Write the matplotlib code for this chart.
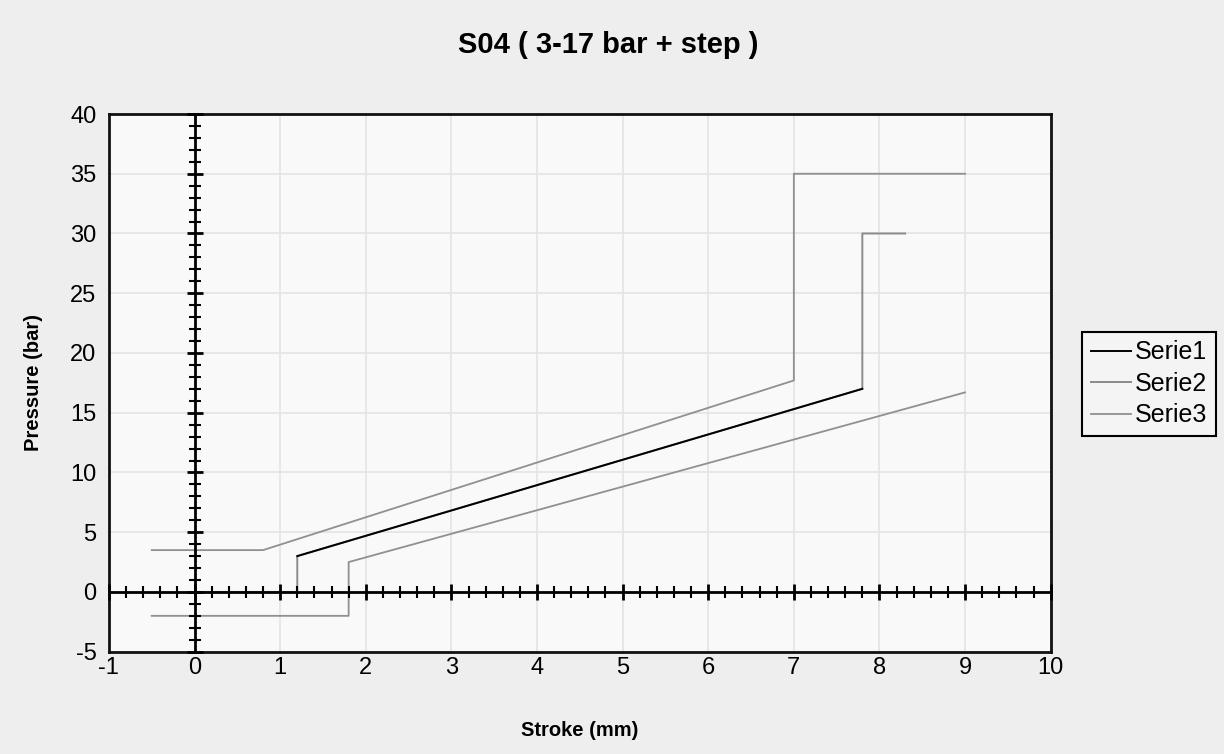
import numpy as np
import matplotlib.pyplot as plt
from matplotlib.ticker import MultipleLocator

plt.rcParams['font.family'] = ['Liberation Sans', 'DejaVu Sans']
plt.rcParams['axes.unicode_minus'] = False

# data
serie1_x = [1.2, 7.8]
serie1_y = [3.0, 17.0]

serie2_x = [0.0, 1.2, 1.2, 7.8, 7.8, 8.3]
serie2_y = [0.0, 0.0, 3.0, 17.0, 30.0, 30.0]

# two branches (upper / lower), split by a gap
serie3_x = [-0.5, 0.8, 7.0, 7.0, 9.0, np.nan, -0.5, 1.8, 1.8, 9.0]
serie3_y = [3.5, 3.5, 17.7, 35.0, 35.0, np.nan, -2.0, -2.0, 2.5, 16.7]

labels = ['Serie1', 'Serie2', 'Serie3']

fig = plt.figure(figsize=(12.24, 7.54), dpi=100, facecolor='#eeeeee')
pos = [0.089, 0.1357, 0.7694, 0.7131]
ax = fig.add_axes(pos)
ax.set_facecolor('#f9f9f9')

l2, = ax.plot(serie2_x, serie2_y, color='#8a8a8a', lw=1.4, zorder=3)
l1, = ax.plot(serie1_x, serie1_y, color='black', lw=1.4, zorder=4)
l3, = ax.plot(serie3_x, serie3_y, color='#909090', lw=1.3, zorder=3)

ax.set_xlim(-1, 10)
ax.set_ylim(-5, 40)
ax.xaxis.set_major_locator(MultipleLocator(1))
ax.yaxis.set_major_locator(MultipleLocator(5))
ax.grid(True, color='#e4e4e4', lw=1.2, zorder=0)
ax.set_axisbelow(True)
ax.tick_params(which='both', length=0, labelsize=17, colors='black')
ax.tick_params(axis='x', pad=4)
ax.tick_params(axis='y', pad=9)
for s in ax.spines.values():
    s.set_linewidth(2)
    s.set_color('#111111')

ax.set_xlabel('Stroke (mm)', fontsize=14.5, fontweight='bold')
ax.set_ylabel('Pressure (bar)', fontsize=14.5, fontweight='bold')
ax.xaxis.set_label_coords(0.5, -0.128)
ax.yaxis.set_label_coords(-0.07, 0.5)

# cross axes through the origin with their own ticks
ax2 = fig.add_axes(pos, frameon=True, sharex=ax, sharey=ax)
ax2.patch.set_visible(False)
ax2.spines['top'].set_visible(False)
ax2.spines['right'].set_visible(False)
ax2.spines['bottom'].set_position(('data', 0))
ax2.spines['left'].set_position(('data', 0))
ax2.spines['bottom'].set_linewidth(2)
ax2.spines['left'].set_linewidth(2)
ax2.xaxis.set_minor_locator(MultipleLocator(0.2))
ax2.yaxis.set_minor_locator(MultipleLocator(1))
ax2.tick_params(which='major', direction='inout', length=11, width=2,
                labelbottom=False, labelleft=False)
ax2.tick_params(which='minor', direction='inout', length=9, width=1.5)
ax2.set_zorder(ax.get_zorder() + 1)

fig.text(0.497, 0.94, 'S04 ( 3-17 bar + step )', ha='center', va='center',
         fontsize=21, fontweight='bold')

leg = fig.legend([l1, l2, l3], labels, loc='center left',
                 bbox_to_anchor=(0.884, 0.491), fontsize=18,
                 frameon=True, fancybox=False, framealpha=1,
                 edgecolor='black', facecolor='#f4f4f4',
                 handlelength=1.6, handletextpad=0.15, labelspacing=0.3,
                 borderpad=0.35, borderaxespad=0)
leg.get_frame().set_linewidth(1.5)

fig.savefig('out.png', dpi=100, facecolor=fig.get_facecolor())
